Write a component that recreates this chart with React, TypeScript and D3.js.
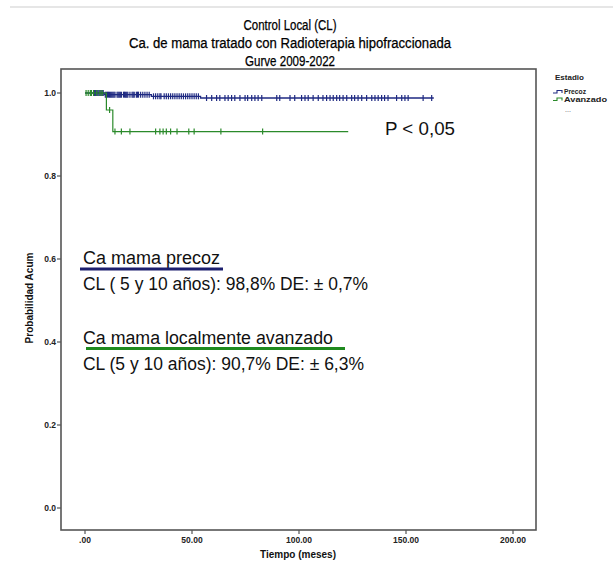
import React from "react";
import * as d3 from "d3";

const titleLines = [
  "Control Local (CL)",
  "Ca. de mama tratado con Radioterapia hipofraccionada",
  "Gurve 2009-2022",
];
const xTicks = [0, 50, 100, 150, 200];
const xTickLabels = [".00", "50.00", "100.00", "150.00", "200.00"];
const yTicks = [0, 0.2, 0.4, 0.6, 0.8, 1.0];
const yTickLabels = ["0.0", "0.2", "0.4", "0.6", "0.8", "1.0"];

// Kaplan-Meier steps: [time, survival]
const precozSteps: [number, number][] = [
  [0, 1.0],
  [9, 0.996],
  [31, 0.992],
  [54, 0.988],
];
const precozEnd = 163;
const precozCensored = [
  4.5, 5, 5.5, 6, 6.5, 7, 7.5, 8, 8.5, 9.5, 10, 10.5, 11, 11.5, 12, 12.5, 13,
  13.5, 14, 15, 15.5, 16, 16.5, 17, 18, 18.5, 19, 19.5, 20, 21, 22, 22.5, 23, 24,
  24.5, 25, 26, 27, 28, 29, 30, 32, 33, 34, 35, 35.5, 37, 38, 39, 40, 41, 42, 43,
  44, 45, 46, 47, 48, 49, 50, 51, 52, 53, 56.8, 59.2, 61.5, 63, 65.4, 66.9, 68.5,
  70, 72.4, 74.8, 76, 77.9, 79.4, 80.9, 82.6, 89.6, 91, 95.8, 98, 101.2, 102.8,
  104.3, 106.6, 109, 111.2, 112.9, 114.5, 116, 117.6, 119, 120.6, 122.3, 124.6,
  126, 127.6, 129.3, 131.6, 134, 135.5, 137, 138.6, 140, 141.6, 145.6, 148, 149.5,
  151, 158, 162,
];
const avanzadoSteps: [number, number][] = [
  [0, 1.0],
  [10, 0.959],
  [13, 0.907],
];
const avanzadoEnd = 123;
const avanzadoCensored = [
  0.5, 1.5, 2.5, 3, 4, 5.5, 7, 8, 11.5, 14, 17, 21, 33, 35, 36.5, 38, 40, 43,
  48.5, 51, 63.5, 83,
];

const BLUE = "#1f2a82";
const GREEN = "#2b8a2b";

function survAt(steps: [number, number][], t: number) {
  let s = steps[0][1];
  for (const [tt, v] of steps) if (tt <= t) s = v;
  return s;
}

export default function App() {
  const W = 613;
  const H = 561;
  const box = { left: 61, right: 536, top: 69, bottom: 530 };
  const x = d3.scaleLinear().domain([0, 200]).range([85, 513]);
  const y = d3.scaleLinear().domain([0, 1]).range([508, 93]);

  const stepLine = d3
    .line<[number, number]>()
    .x((d) => x(d[0]))
    .y((d) => y(d[1]))
    .curve(d3.curveStepAfter);

  const precozPts: [number, number][] = [
    ...precozSteps,
    [precozEnd, precozSteps[precozSteps.length - 1][1]],
  ];
  const avanzadoPts: [number, number][] = [
    ...avanzadoSteps,
    [avanzadoEnd, avanzadoSteps[avanzadoSteps.length - 1][1]],
  ];

  const font = "'Liberation Sans', Arial, sans-serif";

  return (
    <svg
      width={W}
      height={H}
      style={{ position: "absolute", left: 0, top: 0, background: "#fff" }}
      fontFamily={font}
    >
      <rect x={0} y={0} width={W} height={H} fill="#fff" />
      <line x1={10} x2={613} y1={7} y2={7} stroke="#dedede" strokeWidth={1.5} />
      {/* Titles */}
      {titleLines.map((t, i) => (
        <text
          key={i}
          x={290}
          y={30 + i * 18}
          textAnchor="middle"
          fontSize={14}
          fill="#000"
          stroke="#000"
          strokeWidth={0.25}
          textLength={[93, 322, 90][i]}
          lengthAdjust="spacingAndGlyphs"
        >
          {t}
        </text>
      ))}
      {/* Plot box */}
      <rect
        x={box.left}
        y={box.top}
        width={box.right - box.left}
        height={box.bottom - box.top}
        fill="none"
        stroke="#555"
        strokeWidth={1.6}
      />
      {/* Y ticks */}
      {yTicks.map((v, i) => (
        <g key={i}>
          <line x1={box.left - 4} x2={box.left} y1={y(v)} y2={y(v)} stroke="#555" strokeWidth={1.2} />
          <text
            x={box.left - 5}
            y={y(v) + 3}
            textAnchor="end"
            fontSize={8.5}
            fontWeight="bold"
            fill="#222"
          >
            {yTickLabels[i]}
          </text>
        </g>
      ))}
      {/* X ticks */}
      {xTicks.map((v, i) => (
        <g key={i}>
          <line x1={x(v)} x2={x(v)} y1={box.bottom} y2={box.bottom + 4} stroke="#555" strokeWidth={1.2} />
          <text
            x={x(v)}
            y={box.bottom + 13}
            textAnchor="middle"
            fontSize={8.5}
            fontWeight="bold"
            fill="#222"
          >
            {xTickLabels[i]}
          </text>
        </g>
      ))}
      <text
        transform={`translate(33,298) rotate(-90)`}
        textAnchor="middle"
        fontSize={10}
        fontWeight="bold"
        fill="#111"
      >
        Probabilidad Acum
      </text>
      <text x={298} y={558} textAnchor="middle" fontSize={10} fontWeight="bold" fill="#111">
        Tiempo (meses)
      </text>

      {/* Curves */}
      <path d={stepLine(precozPts) || ""} fill="none" stroke={BLUE} strokeWidth={1.3} />
      {precozCensored.map((t, i) => {
        const s = survAt(precozSteps, t);
        return (
          <line key={"pc" + i} x1={x(t)} x2={x(t)} y1={y(s) - 3} y2={y(s) + 3} stroke={BLUE} strokeWidth={1.2} />
        );
      })}
      <path d={stepLine(avanzadoPts) || ""} fill="none" stroke={GREEN} strokeWidth={1.2} />
      {avanzadoCensored.map((t, i) => {
        const s = survAt(avanzadoSteps, t);
        return (
          <line key={"ac" + i} x1={x(t)} x2={x(t)} y1={y(s) - 3} y2={y(s) + 3} stroke={GREEN} strokeWidth={1.2} />
        );
      })}

      {/* Legend */}
      <text x={555} y={80} fontSize={8} fontWeight="bold" fill="#222">
        Estadio
      </text>
      <path d="M553,93 h4 v-2.5 h5 v2.5" fill="none" stroke={BLUE} strokeWidth={1.1} />
      <text x={564} y={94} fontSize={6.5} fontWeight="bold" fill="#222" textLength={22} lengthAdjust="spacingAndGlyphs">
        Precoz
      </text>
      <path d="M553,100.5 h4 v-2.5 h5 v2.5" fill="none" stroke={GREEN} strokeWidth={1.1} />
      <text x={564} y={101.5} fontSize={6.5} fontWeight="bold" fill="#222" textLength={43} lengthAdjust="spacingAndGlyphs">
        Avanzado
      </text>
      <text x={565} y={112} fontSize={7} fill="#555">
        ...
      </text>

      {/* Annotations */}
      <text x={385} y={135} fontSize={19} fill="#111" textLength={70} lengthAdjust="spacingAndGlyphs">
        P &lt; 0,05
      </text>
      <text x={83} y={264} fontSize={18} fill="#111" textLength={137} lengthAdjust="spacingAndGlyphs">
        Ca mama precoz
      </text>
      <line x1={80} x2={223} y1={269} y2={269} stroke="#1c1f6e" strokeWidth={3} />
      <text x={83} y={290} fontSize={17.5} fill="#111" textLength={285} lengthAdjust="spacingAndGlyphs">
        CL ( 5 y 10 años): 98,8% DE: ± 0,7%
      </text>
      <text x={83} y={344} fontSize={18} fill="#111" textLength={250} lengthAdjust="spacingAndGlyphs">
        Ca mama localmente avanzado
      </text>
      <line x1={86} x2={345} y1={348.5} y2={348.5} stroke="#1f8a1f" strokeWidth={3} />
      <text x={83} y={370} fontSize={17.5} fill="#111" textLength={281} lengthAdjust="spacingAndGlyphs">
        CL (5 y 10 años): 90,7% DE: ± 6,3%
      </text>
    </svg>
  );
}
